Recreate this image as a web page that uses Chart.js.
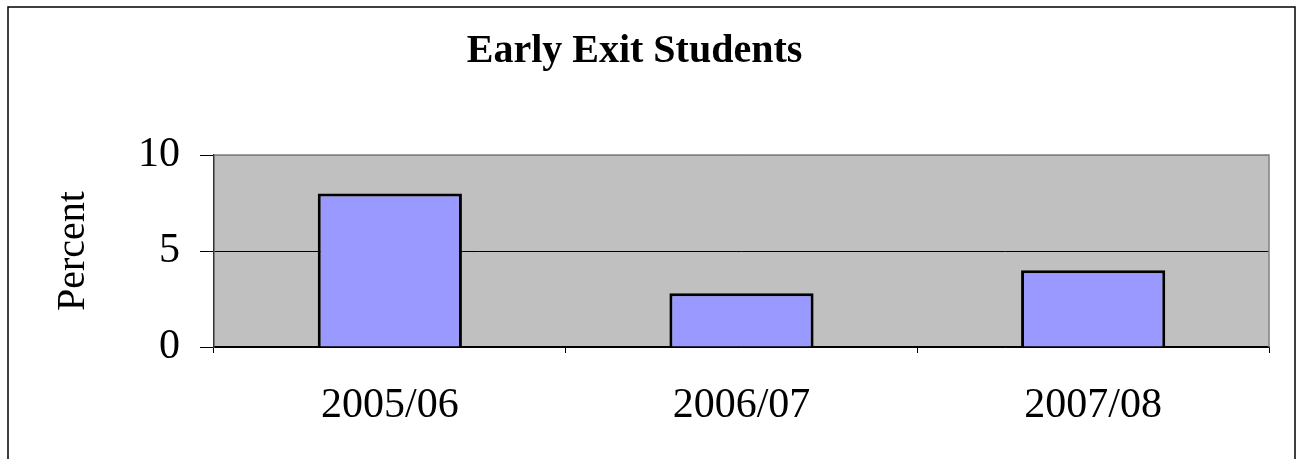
<!DOCTYPE html>
<html>
<head>
<meta charset="utf-8">
<script src="https://cdn.jsdelivr.net/npm/chart.js@4"></script>
<style>
  html, body { margin: 0; padding: 0; background: #fff; }
  #wrap { width: 1297px; height: 459px; }
</style>
</head>
<body>
<div id="wrap"><canvas id="chart" width="1297" height="459"></canvas></div>
<script>
// data
const years = ['2005/06', '2006/07', '2007/08'];
const percents = [8, 2.8, 4];
const yTicks = [0, 5, 10];

// grey plot background + frame round the whole chart
const frame = {
    id: 'frame',
    beforeDraw(chart) {
        const { ctx, chartArea: a } = chart;
        ctx.save();
        ctx.fillStyle = '#c0c0c0';
        ctx.fillRect(a.left, a.top, a.right - a.left, a.bottom - a.top);
        ctx.restore();
    },
    afterDraw(chart) {
        const { ctx, chartArea: a } = chart;
        ctx.save();
        ctx.strokeStyle = '#808080';
        ctx.lineWidth = 1.5;
        ctx.beginPath();
        ctx.moveTo(a.left, a.top);
        ctx.lineTo(a.right, a.top);
        ctx.lineTo(a.right, a.bottom);
        ctx.stroke();
        ctx.strokeStyle = '#000';
        ctx.lineWidth = 1.5;
        ctx.strokeRect(8, 7, 1287, 480);
        ctx.restore();
    }
};

new Chart(document.getElementById('chart'), {
    type: 'bar',
    data: {
        labels: years,
        datasets: [{
            data: percents,
            backgroundColor: '#9999ff',
            borderColor: '#000',
            borderWidth: 3,
            barPercentage: 0.41,
            categoryPercentage: 1
        }]
    },
    options: {
        responsive: false,
        animation: false,
        layout: { padding: { left: 0, right: 28, top: 0, bottom: 0 } },
        plugins: {
            legend: { display: false },
            tooltip: { enabled: false },
            title: {
                display: true,
                text: 'Early Exit Students',
                color: '#000',
                font: { family: 'Liberation Serif', size: 40, weight: 'bold' },
                padding: { top: 28, bottom: 79 }
            }
        },
        scales: {
            x: {
                grid: { offset: true, drawOnChartArea: false, color: '#000', tickLength: 6 },
                border: { color: '#000', width: 1.5 },
                ticks: { color: '#000', padding: 28, font: { family: 'Liberation Serif', size: 42 } },
                afterFit(s) { s.height = 112; }
            },
            y: {
                min: 0,
                max: 10,
                afterBuildTicks(s) { s.ticks = yTicks.map(v => ({ value: v })); },
                grid: {
                    color: c => c.tick && c.tick.value === 10 ? '#808080' : '#000',
                    tickColor: '#000',
                    tickLength: 14
                },
                border: { color: '#333', width: 1.5 },
                ticks: { color: '#000', padding: 20, font: { family: 'Liberation Serif', size: 42 } },
                title: {
                    display: true,
                    text: 'Percent',
                    color: '#000',
                    font: { family: 'Liberation Serif', size: 40 },
                    padding: { top: 49, bottom: 0 }
                },
                afterFit(s) { s.width = 214; }
            }
        }
    },
    plugins: [frame]
});
</script>
</body>
</html>
